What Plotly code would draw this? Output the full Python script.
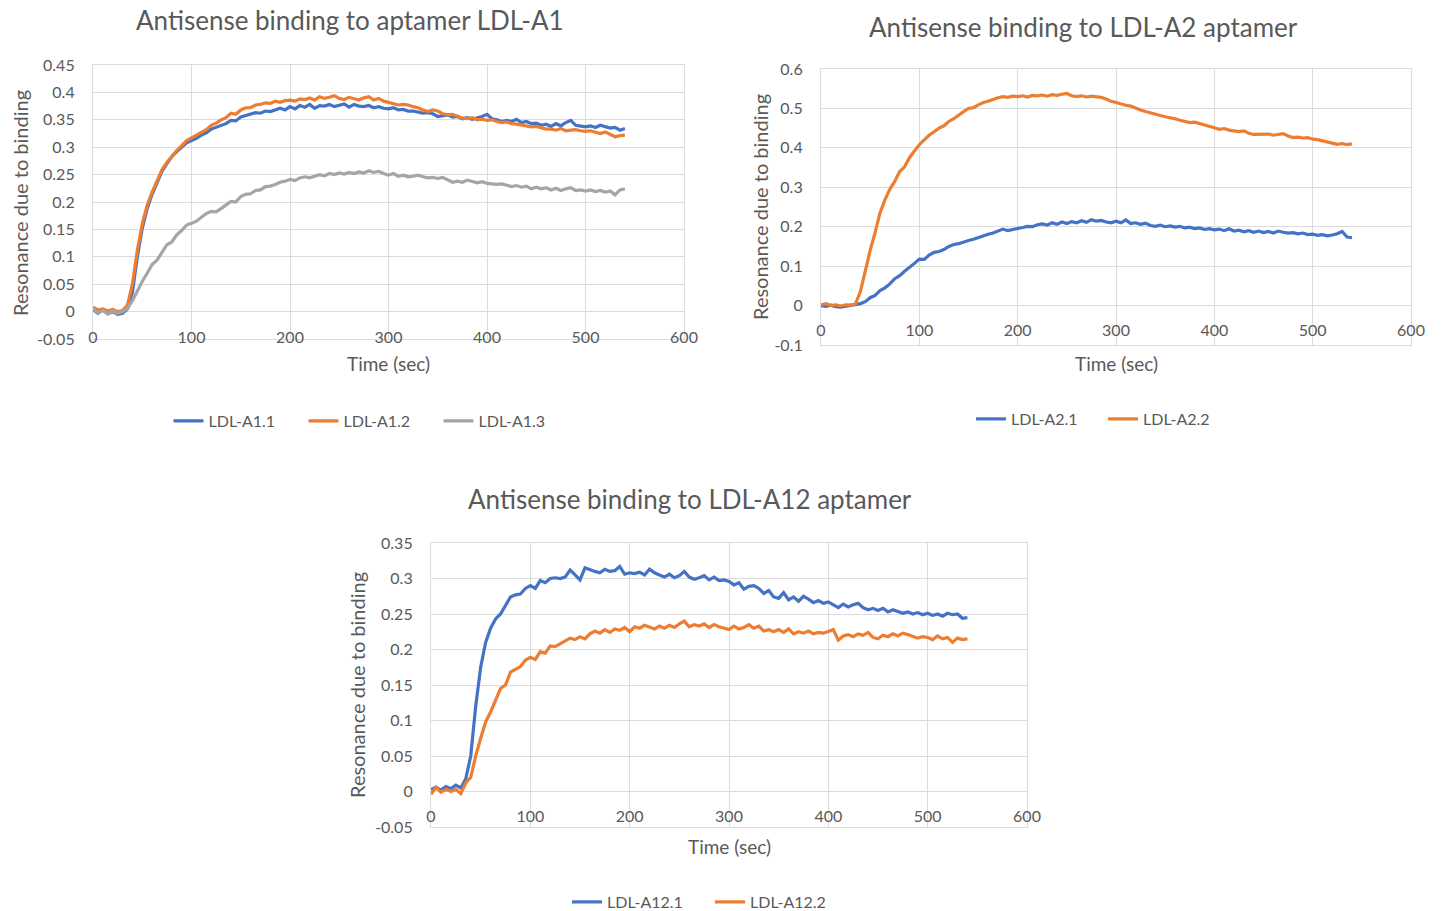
import plotly.graph_objects as go

# ---------------- data ----------------
time_sec = list(range(0, 545, 5))

ldl_a1_1 = [0.004, -0.003, 0.003, -0.004, 0.000, -0.005, -0.003, 0.005, 0.035, 0.100,
            0.152, 0.188, 0.214, 0.236, 0.256, 0.270, 0.283, 0.292, 0.300, 0.308,
            0.312, 0.316, 0.322, 0.326, 0.333, 0.336, 0.340, 0.343, 0.349, 0.348,
            0.355, 0.358, 0.360, 0.363, 0.362, 0.366, 0.365, 0.368, 0.371, 0.368,
            0.374, 0.370, 0.376, 0.373, 0.378, 0.371, 0.376, 0.375, 0.378, 0.374,
            0.377, 0.379, 0.373, 0.378, 0.375, 0.374, 0.376, 0.372, 0.374, 0.371,
            0.370, 0.372, 0.368, 0.369, 0.366, 0.366, 0.364, 0.362, 0.363, 0.361,
            0.356, 0.357, 0.359, 0.355, 0.356, 0.352, 0.354, 0.351, 0.353, 0.356,
            0.360, 0.352, 0.350, 0.347, 0.349, 0.347, 0.351, 0.345, 0.347, 0.343,
            0.344, 0.340, 0.342, 0.338, 0.343, 0.339, 0.345, 0.349, 0.340, 0.338,
            0.337, 0.339, 0.336, 0.340, 0.338, 0.335, 0.336, 0.331, 0.334]

ldl_a1_2 = [0.008, 0.003, 0.005, 0.001, 0.004, 0.000, 0.002, 0.012, 0.050, 0.112,
            0.160, 0.194, 0.218, 0.240, 0.259, 0.272, 0.284, 0.294, 0.303, 0.312,
            0.317, 0.322, 0.328, 0.332, 0.340, 0.344, 0.350, 0.354, 0.362, 0.360,
            0.368, 0.372, 0.372, 0.377, 0.378, 0.381, 0.380, 0.384, 0.382, 0.385,
            0.386, 0.384, 0.388, 0.387, 0.390, 0.386, 0.392, 0.389, 0.391, 0.394,
            0.389, 0.387, 0.391, 0.388, 0.386, 0.390, 0.392, 0.386, 0.389, 0.384,
            0.382, 0.380, 0.377, 0.378, 0.377, 0.374, 0.372, 0.368, 0.365, 0.368,
            0.366, 0.361, 0.359, 0.360, 0.356, 0.353, 0.352, 0.354, 0.350, 0.351,
            0.349, 0.350, 0.347, 0.345, 0.346, 0.343, 0.342, 0.340, 0.339, 0.337,
            0.338, 0.335, 0.333, 0.333, 0.331, 0.334, 0.330, 0.331, 0.332, 0.330,
            0.329, 0.330, 0.327, 0.325, 0.328, 0.323, 0.319, 0.321, 0.322]

ldl_a1_3 = [0.005, -0.002, 0.002, -0.004, 0.001, -0.003, 0.000, 0.006, 0.020, 0.038,
            0.055, 0.070, 0.086, 0.094, 0.108, 0.122, 0.127, 0.140, 0.148, 0.158,
            0.161, 0.165, 0.172, 0.179, 0.183, 0.182, 0.188, 0.195, 0.201, 0.200,
            0.210, 0.214, 0.215, 0.221, 0.222, 0.228, 0.229, 0.232, 0.236, 0.238,
            0.241, 0.239, 0.244, 0.246, 0.244, 0.247, 0.250, 0.248, 0.252, 0.250,
            0.253, 0.251, 0.254, 0.252, 0.255, 0.253, 0.257, 0.254, 0.256, 0.252,
            0.249, 0.252, 0.247, 0.249, 0.246, 0.247, 0.249, 0.246, 0.244, 0.245,
            0.243, 0.245, 0.240, 0.236, 0.238, 0.236, 0.240, 0.238, 0.235, 0.237,
            0.234, 0.233, 0.232, 0.233, 0.231, 0.228, 0.230, 0.227, 0.229, 0.224,
            0.227, 0.224, 0.226, 0.222, 0.225, 0.221, 0.224, 0.226, 0.221, 0.222,
            0.220, 0.222, 0.219, 0.221, 0.218, 0.220, 0.213, 0.222, 0.224]

ldl_a2_1 = [0.000, -0.002, 0.001, -0.003, -0.004, -0.002, 0.000, 0.003, 0.005, 0.010,
            0.020, 0.026, 0.038, 0.045, 0.055, 0.068, 0.076, 0.087, 0.096, 0.107,
            0.118, 0.117, 0.128, 0.135, 0.137, 0.142, 0.150, 0.155, 0.157, 0.162,
            0.165, 0.168, 0.173, 0.176, 0.181, 0.184, 0.188, 0.194, 0.190, 0.192,
            0.194, 0.198, 0.201, 0.200, 0.205, 0.207, 0.204, 0.210, 0.206, 0.212,
            0.208, 0.213, 0.210, 0.215, 0.211, 0.218, 0.214, 0.216, 0.212, 0.210,
            0.214, 0.210, 0.217, 0.208, 0.210, 0.206, 0.209, 0.203, 0.201, 0.204,
            0.200, 0.202, 0.199, 0.201, 0.197, 0.199, 0.195, 0.197, 0.193, 0.195,
            0.192, 0.194, 0.190, 0.195, 0.189, 0.191, 0.187, 0.190, 0.186, 0.189,
            0.185, 0.188, 0.184, 0.189, 0.186, 0.184, 0.185, 0.182, 0.184, 0.180,
            0.181, 0.178, 0.180, 0.177, 0.179, 0.182, 0.188, 0.174, 0.172]

ldl_a2_2 = [0.002, 0.005, 0.000, 0.002, -0.001, 0.002, 0.001, 0.004, 0.035, 0.090,
            0.140, 0.185, 0.235, 0.268, 0.295, 0.315, 0.340, 0.352, 0.375, 0.392,
            0.408, 0.420, 0.432, 0.441, 0.450, 0.456, 0.467, 0.474, 0.484, 0.492,
            0.500, 0.502, 0.509, 0.515, 0.518, 0.523, 0.527, 0.530, 0.528, 0.531,
            0.530, 0.532, 0.529, 0.533, 0.532, 0.534, 0.531, 0.535, 0.533, 0.536,
            0.538, 0.532, 0.530, 0.532, 0.529, 0.531, 0.530, 0.528, 0.524, 0.518,
            0.515, 0.511, 0.508, 0.506, 0.500, 0.496, 0.492, 0.488, 0.484, 0.482,
            0.479, 0.477, 0.474, 0.470, 0.467, 0.464, 0.465, 0.462, 0.458, 0.456,
            0.451, 0.447, 0.449, 0.445, 0.444, 0.441, 0.443, 0.437, 0.434, 0.435,
            0.434, 0.435, 0.432, 0.433, 0.436, 0.430, 0.426, 0.427, 0.425, 0.426,
            0.422, 0.421, 0.418, 0.417, 0.414, 0.409, 0.411, 0.408, 0.410]

ldl_a12_1 = [0.003, 0.006, 0.002, 0.007, 0.004, 0.009, 0.005, 0.018, 0.050, 0.120,
             0.175, 0.210, 0.230, 0.243, 0.250, 0.262, 0.274, 0.277, 0.278, 0.286,
             0.290, 0.286, 0.297, 0.294, 0.300, 0.301, 0.300, 0.302, 0.312, 0.305,
             0.298, 0.315, 0.312, 0.310, 0.308, 0.313, 0.310, 0.311, 0.317, 0.306,
             0.308, 0.307, 0.309, 0.305, 0.313, 0.308, 0.305, 0.302, 0.306, 0.301,
             0.304, 0.310, 0.302, 0.299, 0.301, 0.304, 0.298, 0.302, 0.297, 0.298,
             0.296, 0.291, 0.294, 0.285, 0.289, 0.290, 0.286, 0.279, 0.283, 0.274,
             0.272, 0.280, 0.270, 0.274, 0.268, 0.275, 0.271, 0.266, 0.269, 0.265,
             0.267, 0.263, 0.259, 0.264, 0.260, 0.263, 0.265, 0.259, 0.256, 0.258,
             0.255, 0.258, 0.253, 0.256, 0.254, 0.251, 0.253, 0.250, 0.252, 0.249,
             0.251, 0.248, 0.250, 0.247, 0.251, 0.249, 0.250, 0.244, 0.245]

ldl_a12_2 = [-0.004, 0.006, -0.001, 0.003, 0.000, 0.003, -0.003, 0.012, 0.020, 0.050,
             0.075, 0.098, 0.112, 0.130, 0.145, 0.150, 0.168, 0.172, 0.176, 0.185,
             0.189, 0.186, 0.197, 0.195, 0.205, 0.204, 0.208, 0.212, 0.216, 0.214,
             0.218, 0.215, 0.222, 0.226, 0.223, 0.228, 0.224, 0.229, 0.227, 0.231,
             0.225, 0.232, 0.230, 0.234, 0.231, 0.229, 0.233, 0.230, 0.234, 0.231,
             0.236, 0.240, 0.232, 0.235, 0.233, 0.236, 0.231, 0.235, 0.232, 0.230,
             0.228, 0.233, 0.229, 0.231, 0.235, 0.230, 0.233, 0.226, 0.228, 0.225,
             0.228, 0.224, 0.229, 0.222, 0.225, 0.223, 0.226, 0.222, 0.224, 0.223,
             0.225, 0.228, 0.213, 0.219, 0.221, 0.218, 0.222, 0.220, 0.224, 0.217,
             0.215, 0.220, 0.218, 0.222, 0.219, 0.223, 0.221, 0.219, 0.216, 0.218,
             0.217, 0.214, 0.219, 0.215, 0.217, 0.210, 0.216, 0.214, 0.215]

# axis ticks
x_ticks = [0, 100, 200, 300, 400, 500, 600]
x_tick_labels = ["0", "100", "200", "300", "400", "500", "600"]
a1_y_ticks = [-0.05, 0, 0.05, 0.1, 0.15, 0.2, 0.25, 0.3, 0.35, 0.4, 0.45]
a1_y_labels = ["-0.05", "0", "0.05", "0.1", "0.15", "0.2", "0.25", "0.3", "0.35", "0.4", "0.45"]
a2_y_ticks = [-0.1, 0, 0.1, 0.2, 0.3, 0.4, 0.5, 0.6]
a2_y_labels = ["-0.1", "0", "0.1", "0.2", "0.3", "0.4", "0.5", "0.6"]
a12_y_ticks = [-0.05, 0, 0.05, 0.1, 0.15, 0.2, 0.25, 0.3, 0.35]
a12_y_labels = ["-0.05", "0", "0.05", "0.1", "0.15", "0.2", "0.25", "0.3", "0.35"]

titles = ["Antisense binding to aptamer LDL-A1",
          "Antisense binding to LDL-A2 aptamer",
          "Antisense binding to LDL-A12 aptamer"]
x_title = "Time (sec)"
y_title = "Resonance due to binding"

# ---------------- style ----------------
W, H = 1442, 911
FONT = "Lato, 'Open Sans', sans-serif"
TXT = "#595959"
GRID = "#dcdcdc"
BLUE, ORANGE, GRAY = "#4472C4", "#ED7D31", "#A5A5A5"


def px_x(p):
    return p / W


def px_y(p):
    return 1 - p / H


fig = go.Figure()

series = [
    ("x", "y", "legend", "LDL-A1.1", ldl_a1_1, BLUE),
    ("x", "y", "legend", "LDL-A1.2", ldl_a1_2, ORANGE),
    ("x", "y", "legend", "LDL-A1.3", ldl_a1_3, GRAY),
    ("x2", "y2", "legend2", "LDL-A2.1", ldl_a2_1, BLUE),
    ("x2", "y2", "legend2", "LDL-A2.2", ldl_a2_2, ORANGE),
    ("x3", "y3", "legend3", "LDL-A12.1", ldl_a12_1, BLUE),
    ("x3", "y3", "legend3", "LDL-A12.2", ldl_a12_2, ORANGE),
]
for xa, ya, lg, name, vals, col in series:
    fig.add_trace(go.Scatter(x=time_sec, y=vals, name=name, mode="lines",
                             line=dict(color=col, width=3.2), xaxis=xa, yaxis=ya,
                             legend=lg))

# panel geometry in pixels: (left, right, top, bottom)
panels = [
    dict(box=(93, 684, 65, 339), yr=(-0.05, 0.45), yt_v=a1_y_ticks, yt_l=a1_y_labels,
         xstand=-16, title=(350, 20), xt=(388, 363), yt=(20, 203), leg=(371, 421), ew=90),
    dict(box=(821, 1411, 69, 345), yr=(-0.1, 0.6), yt_v=a2_y_ticks, yt_l=a2_y_labels,
         xstand=-29, title=(1083, 27), xt=(1116, 363), yt=(760, 207), leg=(1103, 419), ew=87),
    dict(box=(431, 1027, 543, 827), yr=(-0.05, 0.35), yt_v=a12_y_ticks, yt_l=a12_y_labels,
         xstand=-25, title=(690, 499), xt=(729, 846), yt=(357, 685), leg=(710, 902), ew=98),
]

annotations = []
for i, p in enumerate(panels):
    l, r, t, b = p["box"]
    sfx = "" if i == 0 else str(i + 1)
    axis_common = dict(showgrid=True, gridcolor=GRID, gridwidth=1.2,
                       showline=True, linecolor=GRID, linewidth=1.2, mirror=True,
                       zeroline=True, zerolinecolor=GRID, zerolinewidth=1.2,
                       automargin=False,
                       ticks="", tickfont=dict(family=FONT, size=16, color=TXT))
    fig.update_layout(**{
        "xaxis" + sfx: dict(domain=[px_x(l), px_x(r)], range=[0, 600],
                            tickvals=x_ticks, ticktext=x_tick_labels,
                            anchor="y" + sfx, ticklabelstandoff=p["xstand"],
                            **axis_common),
        "yaxis" + sfx: dict(domain=[px_y(b), px_y(t)], range=list(p["yr"]),
                            tickvals=p["yt_v"], ticktext=p["yt_l"],
                            anchor="x" + sfx, ticklabelstandoff=14,
                            **axis_common),
    })
    annotations.append(dict(text=titles[i], x=px_x(p["title"][0]), y=px_y(p["title"][1]),
                            xref="paper", yref="paper", showarrow=False,
                            xanchor="center", yanchor="middle",
                            font=dict(family=FONT, size=26, color=TXT)))
    annotations.append(dict(text=x_title, x=px_x(p["xt"][0]), y=px_y(p["xt"][1]),
                            xref="paper", yref="paper", showarrow=False,
                            xanchor="center", yanchor="middle",
                            font=dict(family=FONT, size=19, color=TXT)))
    annotations.append(dict(text=y_title, x=px_x(p["yt"][0]), y=px_y(p["yt"][1]),
                            xref="paper", yref="paper", showarrow=False, textangle=-90,
                            xanchor="center", yanchor="middle",
                            font=dict(family=FONT, size=20, color=TXT)))
    lg_name = "legend" + sfx
    fig.update_layout(**{lg_name: dict(orientation="h", x=px_x(p["leg"][0]),
                                       y=px_y(p["leg"][1]), xanchor="center",
                                       yanchor="middle", xref="container",
                                       yref="container", bgcolor="rgba(0,0,0,0)",
                                       font=dict(family=FONT, size=16, color=TXT),
                                       itemwidth=30, entrywidth=p["ew"])})

fig.update_layout(width=W, height=H, margin=dict(l=0, r=0, t=0, b=0, autoexpand=False),
                  paper_bgcolor="white", plot_bgcolor="white",
                  annotations=annotations, showlegend=True)

fig.write_html("out.html", config={"displayModeBar": False},
               post_script="document.body.style.margin='0';"
                           "document.body.style.overflow='hidden';")
